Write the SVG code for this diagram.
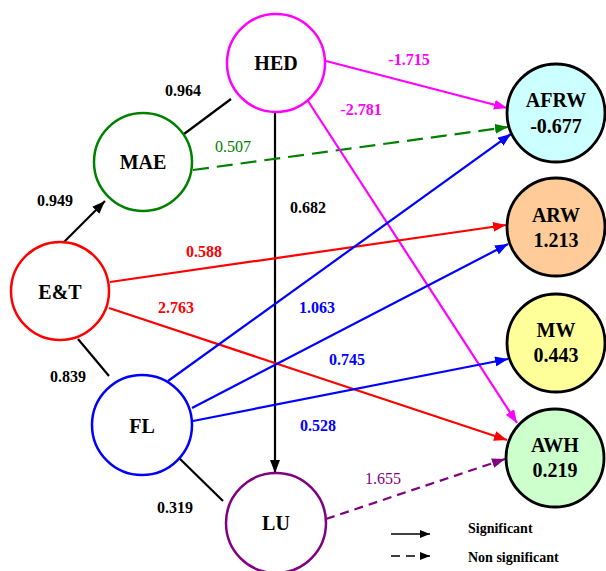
<svg xmlns="http://www.w3.org/2000/svg" width="606" height="571" viewBox="0 0 606 571">
<style>
.node{stroke-width:2.5;fill:#fff}
.out{stroke:#000;stroke-width:2.8}
.nl{font-family:"Liberation Serif","Times New Roman",serif;font-weight:bold;font-size:20px;text-anchor:middle;dominant-baseline:central;fill:#000}
.el{font-family:"Liberation Serif","Times New Roman",serif;font-size:16px;text-anchor:middle;dominant-baseline:central}
.b{font-weight:bold}
.lg{font-family:"Liberation Serif","Times New Roman",serif;font-weight:bold;font-size:14px;dominant-baseline:central;fill:#000}
.e{fill:none;stroke-width:2.2}
</style>
<defs>
<marker id="aK" markerUnits="userSpaceOnUse" markerWidth="14" markerHeight="10" refX="13" refY="5" orient="auto"><path d="M0,0 L13,5 L0,10 z" fill="#000"/></marker>
<marker id="aM" markerUnits="userSpaceOnUse" markerWidth="14" markerHeight="10" refX="13" refY="5" orient="auto"><path d="M0,0 L13,5 L0,10 z" fill="#ff00ff"/></marker>
<marker id="aR" markerUnits="userSpaceOnUse" markerWidth="14" markerHeight="10" refX="13" refY="5" orient="auto"><path d="M0,0 L13,5 L0,10 z" fill="#ff0000"/></marker>
<marker id="aB" markerUnits="userSpaceOnUse" markerWidth="14" markerHeight="10" refX="13" refY="5" orient="auto"><path d="M0,0 L13,5 L0,10 z" fill="#0000ff"/></marker>
<marker id="aG" markerUnits="userSpaceOnUse" markerWidth="14" markerHeight="10" refX="13" refY="5" orient="auto"><path d="M0,0 L13,5 L0,10 z" fill="#008000"/></marker>
<marker id="aP" markerUnits="userSpaceOnUse" markerWidth="14" markerHeight="10" refX="13" refY="5" orient="auto"><path d="M0,0 L13,5 L0,10 z" fill="#800080"/></marker>
<marker id="aL" markerUnits="userSpaceOnUse" markerWidth="11" markerHeight="8" refX="10" refY="4" orient="auto"><path d="M0,0 L10,4 L0,8 z" fill="#000"/></marker>
</defs>
<rect width="606" height="571" fill="#fff"/>
<g id="connectors">
<line class="e" x1="184" y1="134" x2="231" y2="99" stroke="#000"/>
<line class="e" x1="62" y1="244" x2="105" y2="201" stroke="#000" marker-end="url(#aK)"/>
<line class="e" x1="78" y1="339" x2="109" y2="376" stroke="#000"/>
<line class="e" x1="178" y1="457" x2="223" y2="501" stroke="#000"/>
<line class="e" x1="275" y1="113" x2="275" y2="473" stroke="#000" marker-end="url(#aK)"/>
<line class="e" x1="193" y1="170" x2="508" y2="127" stroke="#008000" stroke-dasharray="16 8" stroke-width="1.8" marker-end="url(#aG)"/>
<line class="e" x1="326" y1="61" x2="507" y2="108" stroke="#ff00ff" marker-end="url(#aM)"/>
<line class="e" x1="308" y1="101" x2="517" y2="423" stroke="#ff00ff" marker-end="url(#aM)"/>
<line class="e" x1="110" y1="282" x2="506" y2="225" stroke="#ff0000" marker-end="url(#aR)"/>
<line class="e" x1="109" y1="308" x2="507" y2="440" stroke="#ff0000" marker-end="url(#aR)"/>
<line class="e" x1="168" y1="381" x2="511" y2="134" stroke="#0000ff" marker-end="url(#aB)"/>
<line class="e" x1="192" y1="408" x2="508" y2="244" stroke="#0000ff" marker-end="url(#aB)"/>
<line class="e" x1="193" y1="421" x2="508" y2="359" stroke="#0000ff" marker-end="url(#aB)"/>
<line class="e" x1="326" y1="519" x2="505" y2="459" stroke="#800080" stroke-dasharray="9 6" stroke-width="1.6" marker-end="url(#aP)"/>
<text class="el b" x="183" y="90" fill="#000">0.964</text>
<text class="el b" x="55" y="200" fill="#000">0.949</text>
<text class="el b" x="68" y="376" fill="#000">0.839</text>
<text class="el b" x="175" y="507" fill="#000">0.319</text>
<text class="el b" x="308" y="207" fill="#000">0.682</text>
<text class="el" x="233" y="146" fill="#008000">0.507</text>
<text class="el b" x="409" y="59" fill="#ff00ff">-1.715</text>
<text class="el b" x="361" y="109" fill="#ff00ff">-2.781</text>
<text class="el b" x="204" y="251" fill="#ff0000">0.588</text>
<text class="el b" x="176" y="307" fill="#ff0000">2.763</text>
<text class="el b" x="317" y="307" fill="#0000ff">1.063</text>
<text class="el b" x="347" y="359" fill="#0000ff">0.745</text>
<text class="el b" x="318" y="425" fill="#0000ff">0.528</text>
<text class="el" x="383" y="478" fill="#800080">1.655</text>
</g>
<g id="HED"><circle class="node" cx="276" cy="63" r="49" stroke="#ff00ff"/><text class="nl" x="276" y="63">HED</text></g>
<g id="MAE"><circle class="node" cx="143" cy="162" r="49" stroke="#008000"/><text class="nl" x="143" y="162">MAE</text></g>
<g id="ET"><circle class="node" cx="60" cy="291" r="49" stroke="#ff0000"/><text class="nl" x="60" y="292">E&amp;T</text></g>
<g id="FL"><circle class="node" cx="142" cy="425" r="50" stroke="#0000ff"/><text class="nl" x="142" y="426">FL</text></g>
<g id="LU"><circle class="node" cx="276" cy="523" r="50" stroke="#800080"/><text class="nl" x="276" y="523">LU</text></g>
<g id="AFRW"><circle class="out" cx="556" cy="113" r="49" fill="#ccffff"/><text class="nl" x="556" y="100">AFRW</text><text class="nl" x="556" y="126">-0.677</text></g>
<g id="ARW"><circle class="out" cx="556" cy="227" r="49" fill="#ffcc99"/><text class="nl" x="556" y="215">ARW</text><text class="nl" x="556" y="240">1.213</text></g>
<g id="MW"><circle class="out" cx="556" cy="343" r="49" fill="#ffff99"/><text class="nl" x="556" y="330">MW</text><text class="nl" x="556" y="355">0.443</text></g>
<g id="AWH"><circle class="out" cx="555" cy="458" r="49" fill="#ccffcc"/><text class="nl" x="555" y="445">AWH</text><text class="nl" x="555" y="470">0.219</text></g>
<g id="legend">
<line x1="391" y1="534" x2="430" y2="534" stroke="#000" stroke-width="1.5" marker-end="url(#aL)"/>
<line x1="391" y1="556" x2="430" y2="556" stroke="#000" stroke-width="1.5" stroke-dasharray="9 6" marker-end="url(#aL)"/>
<text class="lg" x="468" y="528">Significant</text>
<text class="lg" x="468" y="557">Non significant</text>
</g>
</svg>
